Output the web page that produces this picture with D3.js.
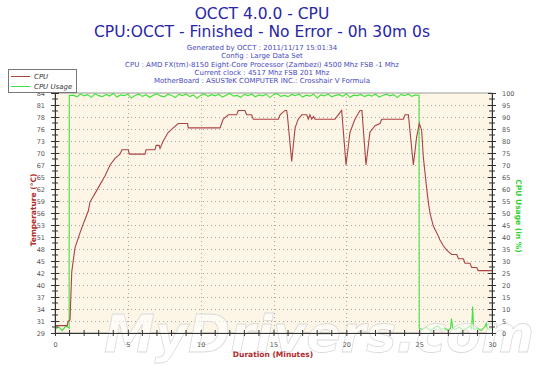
<!DOCTYPE html>
<html>
<head>
<meta charset="utf-8">
<script src="https://cdn.jsdelivr.net/npm/d3@7"></script>
<style>
  body { margin: 0; background: #fff; }
  svg { display: block; font-family: "DejaVu Sans", Verdana, sans-serif; }
</style>
</head>
<body>
<div id="chart"></div>
<script>
// temperature samples (minutes, °C)
const tempTime = [
  0, 0.84, 0.9, 1.03, 1.15, 1.37, 1.72, 1.94, 2.06, 2.29, 2.40, 2.75, 3.09, 3.43,
  3.78, 4.12, 4.46, 4.6, 5.03, 5.1, 6.18, 6.25, 6.86, 6.95, 7.15, 7.21, 7.3, 7.43,
  7.78, 8.12, 8.46, 9.1, 9.15, 11.33, 11.44, 11.55, 11.9, 12.47, 12.58, 13.04, 13.16,
  13.5, 13.61, 15.33, 15.45, 15.79, 15.9, 15.95, 16.25, 16.48, 16.7, 16.94, 17.28,
  17.39, 17.5, 17.62, 17.75, 17.85, 17.97, 19.22, 19.56, 19.68, 19.98, 20.25, 20.59,
  20.94, 21.07, 21.35, 21.62, 21.97, 22.31, 22.43, 23.91, 24.03, 24.26, 24.6, 24.83,
  25.01, 25.17, 25.28, 25.52, 25.63, 25.74, 25.97, 26.2, 26.43, 26.66, 26.89, 27.23,
  27.58, 27.7, 28.03, 28.15, 28.49, 28.6, 28.95, 29.05, 30
];
const tempValue = [
  30.7, 30.7, 31.7, 32, 43, 48.5, 52, 54, 55, 57, 59, 61, 63, 65,
  67.5, 69, 70, 71, 71, 70, 70, 71, 71, 72, 72, 71.3, 72, 73,
  75, 76, 77, 77, 76, 76, 77, 78, 79, 79, 80, 80, 79,
  79, 78, 78, 79, 80, 80, 79, 68.3, 76, 78, 79, 79,
  78, 79, 78, 78.6, 78, 78, 78, 79.5, 80, 67.5, 75, 78,
  80, 80, 67.5, 75, 76.5, 77, 78, 78, 79, 79, 67.5, 74,
  77, 75.5, 69.5, 62, 59, 56.5, 53.5, 52, 50.3, 49, 48, 47,
  47, 46, 46, 45, 45, 44, 44, 43.3, 43.3
];

// CPU usage samples (minutes, %)
const usageTime = [
  0, 0.25, 0.5, 0.75, 0.97, 0.98,
  1.25, 1.5, 1.75, 2, 2.25, 2.5, 2.75, 3, 3.25, 3.5,
  3.75, 4, 4.25, 4.5, 4.75, 5, 5.25, 5.5, 5.75, 6,
  6.25, 6.5, 6.75, 7, 7.25, 7.5, 7.75, 8, 8.25, 8.5,
  8.75, 9, 9.25, 9.5, 9.75, 10, 10.25, 10.5, 10.75, 11,
  11.25, 11.5, 11.75, 12, 12.25, 12.5, 12.75, 13, 13.25, 13.5,
  13.75, 14, 14.25, 14.5, 14.75, 15, 15.25, 15.5, 15.75, 16,
  16.25, 16.5, 16.75, 17, 17.25, 17.5, 17.75, 18, 18.25, 18.5,
  18.75, 19, 19.25, 19.5, 19.75, 20, 20.25, 20.5, 20.75, 21,
  21.25, 21.5, 21.75, 22, 22.25, 22.5, 22.75, 23, 23.25, 23.5,
  23.75, 24, 24.25, 24.5, 24.75,
  24.99, 25, 25.25, 25.5, 25.75, 26, 26.25, 26.5, 26.75, 27, 27.15, 27.22, 27.3,
  27.5, 27.75, 28, 28.25, 28.5, 28.6, 28.67, 28.74, 29, 29.25, 29.5, 29.6, 29.7, 30
];
const usageValue = [
  1.5, 2.5, 1, 3, 2, 99,
  99.1, 98.4, 99.6, 98.8, 99.3, 98.1, 99.7, 98.9, 98.5, 99.4,
  98.7, 99.8, 98.3, 99.2, 98.9, 99.5, 97.9, 99.0, 99.6, 98.6,
  99.3, 98.2, 99.1, 99.7, 98.8, 98.4, 99.5, 99.0, 98.1, 99.4,
  98.9, 99.6, 98.5, 99.2, 97.8, 99.0, 99.7, 98.6, 99.3, 98.8,
  99.5, 98.3, 99.1, 99.8, 98.7, 99.0, 98.2, 99.4, 98.9, 99.6,
  98.4, 99.2, 98.8, 99.5, 98.1, 99.3, 99.7, 98.6, 99.0, 98.5,
  99.4, 98.9, 99.6, 98.3, 99.1, 98.7, 99.5, 97.9, 99.2, 98.8,
  99.6, 98.4, 99.0, 99.3, 98.6, 99.7, 98.2, 99.1, 98.9, 99.4,
  98.5, 99.2, 98.7, 99.6, 98.3, 99.0, 99.5, 98.8, 99.3, 98.1,
  99.4, 98.9, 99.6, 98.6, 99.2,
  99, 2, 1.5, 2.5, 1, 2, 3, 1.5, 2, 1, 2, 6, 2,
  1.5, 2.5, 1, 2, 3, 1.5, 11, 1.5, 2, 1, 2.5, 4, 1.5, 2
];

const xTicks = [0, 5, 10, 15, 20, 25, 30];
const tempTickLabels = ['29', '31', '34', '37', '40', '42', '45', '48', '51', '53', '56',
  '59', '62', '65', '67', '70', '73', '76', '78', '81', '84'];
const usageTicks = [0, 5, 10, 15, 20, 25, 30, 35, 40, 45, 50, 55, 60, 65, 70, 75, 80, 85, 90, 95, 100];

const titleLines = ['OCCT 4.0.0 - CPU', 'CPU:OCCT - Finished - No Error - 0h 30m 0s'];
const infoLines = [
  'Generated by OCCT : 2011/11/17 15:01:34',
  'Config : Large Data Set',
  'CPU : AMD FX(tm)-8150 Eight-Core Processor (Zambezi) 4500 Mhz FSB -1 Mhz',
  'Current clock : 4517 Mhz FSB 201 Mhz',
  'MotherBoard : ASUSTeK COMPUTER INC.: Crosshair V Formula'
];

const width = 550, height = 366;
const plot = { left: 55, right: 492, top: 93, bottom: 333 };

const svg = d3.select('#chart').append('svg')
  .attr('width', width)
  .attr('height', height);

const x = d3.scaleLinear().domain([0, 30]).range([plot.left, plot.right]);
const yTemp = d3.scaleLinear().domain([29, 84]).range([plot.bottom, plot.top]);
const yUsage = d3.scaleLinear().domain([0, 100]).range([plot.bottom, plot.top]);

const tempStep = (84 - 29) / (tempTickLabels.length - 1);
const tempTicks = tempTickLabels.map((d, i) => 29 + i * tempStep);
const tempMinor = tempTicks.slice(1).map(d => d - tempStep / 2);
const xMinor = d3.range(0, 31).filter(d => d % 5 !== 0);

// titles
svg.selectAll('.title')
  .data(titleLines)
  .enter()
  .append('text')
  .attr('x', 262)
  .attr('y', (d, i) => 19 + i * 18)
  .attr('text-anchor', 'middle')
  .style('font-size', '15.5px')
  .style('fill', '#2626a6')
  .text(d => d);

svg.selectAll('.info')
  .data(infoLines)
  .enter()
  .append('text')
  .attr('x', 262)
  .attr('y', (d, i) => 50 + i * 8.3)
  .attr('text-anchor', 'middle')
  .style('font-size', '7px')
  .style('fill', '#4848c0')
  .text(d => d);

// plot background
svg.append('rect')
  .attr('x', plot.left)
  .attr('y', plot.top)
  .attr('width', plot.right - plot.left)
  .attr('height', plot.bottom - plot.top)
  .style('fill', '#fdf6e6')
  .style('stroke', '#9a9a9a')
  .style('stroke-width', 1);

// grid
svg.append('g')
  .selectAll('line')
  .data(tempTicks.slice(1, -1))
  .enter()
  .append('line')
  .attr('x1', plot.left)
  .attr('x2', plot.right)
  .attr('y1', d => Math.round(yTemp(d)) + 0.5)
  .attr('y2', d => Math.round(yTemp(d)) + 0.5)
  .style('stroke', '#a8a8a8')
  .style('stroke-dasharray', '1,3');

svg.append('g')
  .selectAll('line')
  .data(xTicks.slice(1, -1))
  .enter()
  .append('line')
  .attr('x1', d => Math.round(x(d)) + 0.5)
  .attr('x2', d => Math.round(x(d)) + 0.5)
  .attr('y1', plot.top)
  .attr('y2', plot.bottom)
  .style('stroke', '#a8a8a8')
  .style('stroke-dasharray', '1,3');

// series
const usageLine = d3.line()
  .x((d, i) => x(usageTime[i]))
  .y(d => yUsage(d));

svg.append('path')
  .datum(usageValue)
  .attr('d', usageLine)
  .style('fill', 'none')
  .style('stroke', '#3ee23e')
  .style('stroke-width', 1.1);

const tempLine = d3.line()
  .x((d, i) => x(tempTime[i]))
  .y(d => yTemp(d));

svg.append('path')
  .datum(tempValue)
  .attr('d', tempLine)
  .style('fill', 'none')
  .style('stroke', '#ad4242')
  .style('stroke-width', 1.1);

// watermark (sits over the plot, under the axis labels)
svg.append('text')
  .attr('x', 104)
  .attr('y', 352)
  .style('font-size', '51px')
  .style('font-style', 'italic')
  .style('font-weight', 'bold')
  .style('fill', '#fff')
  .style('fill-opacity', 0.6)
  .style('stroke', '#dadada')
  .style('stroke-width', 0.8)
  .text('MyDrivers.com');

// axes
function styleAxis(g) {
  g.select('.domain').style('stroke', '#333');
  g.selectAll('.tick line').style('stroke', '#333');
  g.selectAll('.tick text')
    .style('font-size', '6.5px')
    .style('fill', '#555')
    .style('font-family', '"DejaVu Sans", Verdana, sans-serif');
}

const leftAxis = svg.append('g')
  .attr('transform', 'translate(' + plot.left + ',0)')
  .call(d3.axisLeft(yTemp)
    .tickValues(tempTicks)
    .tickSize(4)
    .tickPadding(6)
    .tickFormat((d, i) => tempTickLabels[i]))
  .call(styleAxis);
leftAxis.selectAll('.tick line').attr('x2', -4).attr('x1', 4);

svg.append('g')
  .attr('transform', 'translate(' + plot.left + ',0)')
  .selectAll('line')
  .data(tempMinor)
  .enter()
  .append('line')
  .attr('x1', -3)
  .attr('x2', 3)
  .attr('y1', d => yTemp(d))
  .attr('y2', d => yTemp(d))
  .style('stroke', '#333');

const rightAxis = svg.append('g')
  .attr('transform', 'translate(' + plot.right + ',0)')
  .call(d3.axisRight(yUsage)
    .tickValues(usageTicks)
    .tickSize(4)
    .tickPadding(6))
  .call(styleAxis);
rightAxis.selectAll('.tick line').attr('x1', -4).attr('x2', 4);

svg.append('g')
  .attr('transform', 'translate(' + plot.right + ',0)')
  .selectAll('line')
  .data(tempMinor)
  .enter()
  .append('line')
  .attr('x1', -3)
  .attr('x2', 3)
  .attr('y1', d => yTemp(d))
  .attr('y2', d => yTemp(d))
  .style('stroke', '#333');

const bottomAxis = svg.append('g')
  .attr('transform', 'translate(0,' + plot.bottom + ')')
  .call(d3.axisBottom(x)
    .tickValues(xTicks)
    .tickSize(3)
    .tickPadding(6))
  .call(styleAxis);
bottomAxis.selectAll('.tick line').attr('y1', -3).attr('y2', 3);

svg.append('g')
  .attr('transform', 'translate(0,' + plot.bottom + ')')
  .selectAll('line')
  .data(xMinor)
  .enter()
  .append('line')
  .attr('x1', d => x(d))
  .attr('x2', d => x(d))
  .attr('y1', -3)
  .attr('y2', 3)
  .style('stroke', '#333');

// axis titles
svg.append('text')
  .attr('transform', 'translate(36,210) rotate(-90)')
  .attr('text-anchor', 'middle')
  .style('font-size', '7.5px')
  .style('font-weight', 'bold')
  .style('fill', '#b02a2a')
  .text('Temperature (°C)');

svg.append('text')
  .attr('transform', 'translate(516,216) rotate(90)')
  .attr('text-anchor', 'middle')
  .style('font-size', '7.5px')
  .style('font-weight', 'bold')
  .style('fill', '#30d030')
  .text('CPU Usage (in %)');

svg.append('text')
  .attr('x', 273)
  .attr('y', 357)
  .attr('text-anchor', 'middle')
  .style('font-size', '7.5px')
  .style('font-weight', 'bold')
  .style('fill', '#b02a2a')
  .text('Duration (Minutes)');

// legend
const legend = svg.append('g').attr('class', 'legend');
legend.append('rect')
  .attr('x', 8.5)
  .attr('y', 69.5)
  .attr('width', 68)
  .attr('height', 23)
  .style('fill', '#fff')
  .style('stroke', '#777');

const legendItems = [
  { name: 'CPU', color: '#ad4242' },
  { name: 'CPU Usage', color: '#3ee23e' }
];

const item = legend.selectAll('.item')
  .data(legendItems)
  .enter()
  .append('g')
  .attr('transform', (d, i) => 'translate(0,' + (76 + i * 10) + ')');

item.append('line')
  .attr('x1', 11)
  .attr('x2', 30)
  .attr('y1', 0.5)
  .attr('y2', 0.5)
  .style('stroke', d => d.color);

item.append('text')
  .attr('x', 34)
  .attr('y', 3)
  .style('font-size', '7px')
  .style('font-style', 'italic')
  .style('fill', '#333')
  .text(d => d.name);
</script>
</body>
</html>
